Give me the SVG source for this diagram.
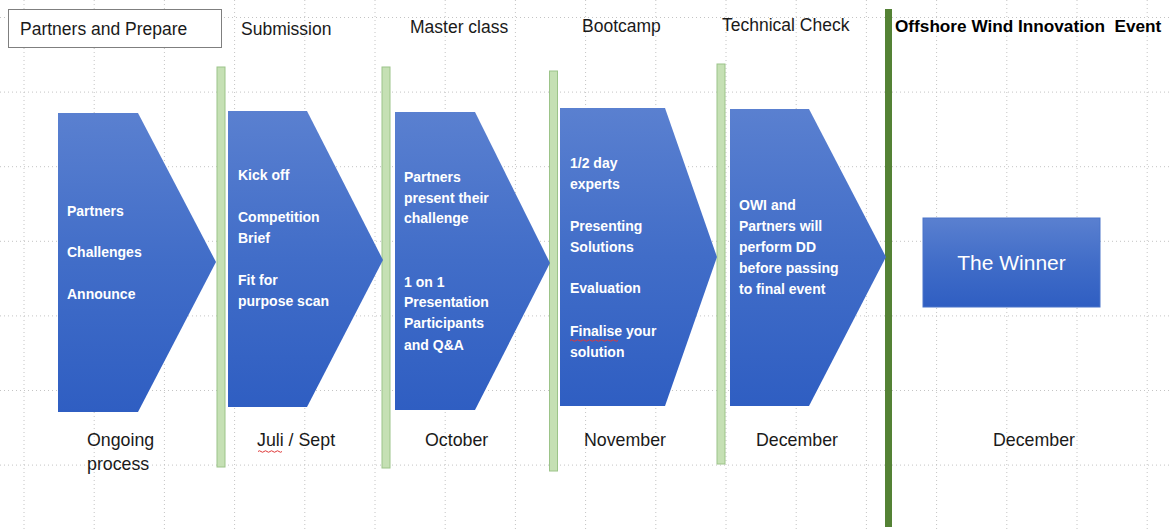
<svg xmlns="http://www.w3.org/2000/svg" width="1171" height="529" viewBox="0 0 1171 529">
  <defs>
    <linearGradient id="blueFill" x1="0" y1="0" x2="0" y2="1">
      <stop offset="0" stop-color="#5a80d0"/>
      <stop offset="0.5" stop-color="#416dc8"/>
      <stop offset="1" stop-color="#2f5ec2"/>
    </linearGradient>
    <style>
      .grid line { stroke: #c4c4c4; stroke-width: 1; stroke-dasharray: 1 3; }
      .chev { fill: url(#blueFill); }
      .bar { fill: #c5e0b4; stroke: #9cc489; stroke-width: 1; }
      .bar-main { fill: #548235; }
      .head { font-family: "Liberation Sans", Arial, sans-serif; font-size: 17.5px; fill: #1a1a1a; }
      .head-bold { font-family: "Liberation Sans", Arial, sans-serif; font-size: 17.2px; font-weight: bold; fill: #000; }
      .label { font-family: "Liberation Sans", Arial, sans-serif; font-size: 14px; font-weight: bold; fill: #ffffff; }
      .month { font-family: "Liberation Sans", Arial, sans-serif; font-size: 17.8px; fill: #1a1a1a; }
      .winner { font-family: "Liberation Sans", Arial, sans-serif; font-size: 21px; fill: #ffffff; }
      .squiggle { fill: none; stroke: #e03a3a; stroke-width: 1; }
    </style>
  </defs>

  <rect width="1171" height="529" fill="#ffffff"/>

  <!-- dotted background grid -->
  <g class="grid">
    <line x1="24" y1="0" x2="24" y2="529"/>
    <line x1="94.2" y1="0" x2="94.2" y2="529"/>
    <line x1="164.4" y1="0" x2="164.4" y2="529"/>
    <line x1="234.6" y1="0" x2="234.6" y2="529"/>
    <line x1="304.8" y1="0" x2="304.8" y2="529"/>
    <line x1="375" y1="0" x2="375" y2="529"/>
    <line x1="445.2" y1="0" x2="445.2" y2="529"/>
    <line x1="515.4" y1="0" x2="515.4" y2="529"/>
    <line x1="585.6" y1="0" x2="585.6" y2="529"/>
    <line x1="655.8" y1="0" x2="655.8" y2="529"/>
    <line x1="726" y1="0" x2="726" y2="529"/>
    <line x1="796.2" y1="0" x2="796.2" y2="529"/>
    <line x1="866.4" y1="0" x2="866.4" y2="529"/>
    <line x1="936.6" y1="0" x2="936.6" y2="529"/>
    <line x1="1006.8" y1="0" x2="1006.8" y2="529"/>
    <line x1="1077" y1="0" x2="1077" y2="529"/>
    <line x1="1147.2" y1="0" x2="1147.2" y2="529"/>
    <line x1="0" y1="17.5" x2="1171" y2="17.5"/>
    <line x1="0" y1="92.1" x2="1171" y2="92.1"/>
    <line x1="0" y1="166.7" x2="1171" y2="166.7"/>
    <line x1="0" y1="241.3" x2="1171" y2="241.3"/>
    <line x1="0" y1="315.9" x2="1171" y2="315.9"/>
    <line x1="0" y1="390.5" x2="1171" y2="390.5"/>
    <line x1="0" y1="465.1" x2="1171" y2="465.1"/>
  </g>

  <!-- phase separators -->
  <g id="separators">
    <rect class="bar" x="217" y="67" width="8" height="400"/>
    <rect class="bar" x="382" y="67" width="8" height="401"/>
    <rect class="bar" x="549.5" y="71" width="8" height="400"/>
    <rect class="bar" x="717" y="64" width="8" height="400"/>
    <rect class="bar-main" x="885" y="9" width="7" height="518"/>
  </g>

  <!-- phase 1 -->
  <g id="phase-partners">
    <rect x="8.5" y="9.5" width="213" height="38" fill="#ffffff" stroke="#7f7f7f" stroke-width="1"/>
    <text class="head" x="20" y="35">Partners and Prepare</text>
    <path class="chev" d="M58,113 H138 L216,262 L138,412 H58 Z"/>
    <text class="label" x="67" y="216">Partners</text>
    <text class="label" x="67" y="257">Challenges</text>
    <text class="label" x="67" y="299">Announce</text>
    <text class="month" x="87" y="446">Ongoing</text>
    <text class="month" x="87" y="470">process</text>
  </g>

  <!-- phase 2 -->
  <g id="phase-submission">
    <text class="head" x="241" y="35">Submission</text>
    <path class="chev" d="M228,111 H307 L383,260 L307,407 H228 Z"/>
    <text class="label" x="238" y="180">Kick off</text>
    <text class="label" x="238" y="222">Competition</text>
    <text class="label" x="238" y="243">Brief</text>
    <text class="label" x="238" y="285">Fit for</text>
    <text class="label" x="238" y="306">purpose scan</text>
    <text class="month" x="257" y="446">Juli / Sept</text>
    <path class="squiggle" d="M258,451.5 q1.5,-1.5 3,0 t3,0 t3,0 t3,0 t3,0 t3,0 t3,0 t3,0"/>
  </g>

  <!-- phase 3 -->
  <g id="phase-masterclass">
    <text class="head" x="410" y="33">Master class</text>
    <path class="chev" d="M395,112 H475 L550,263 L475,410 H395 Z"/>
    <text class="label" x="404" y="182">Partners</text>
    <text class="label" x="404" y="203">present their</text>
    <text class="label" x="404" y="223">challenge</text>
    <text class="label" x="404" y="287">1 on 1</text>
    <text class="label" x="404" y="307">Presentation</text>
    <text class="label" x="404" y="328">Participants</text>
    <text class="label" x="404" y="350">and Q&amp;A</text>
    <text class="month" x="425" y="446">October</text>
  </g>

  <!-- phase 4 -->
  <g id="phase-bootcamp">
    <text class="head" x="582" y="32">Bootcamp</text>
    <path class="chev" d="M560,108 H665 L717,257 L665,406 H560 Z"/>
    <text class="label" x="570" y="168">1/2 day</text>
    <text class="label" x="570" y="189">experts</text>
    <text class="label" x="570" y="231">Presenting</text>
    <text class="label" x="570" y="252">Solutions</text>
    <text class="label" x="570" y="293">Evaluation</text>
    <text class="label" x="570" y="336">Finalise your</text>
    <path class="squiggle" d="M570,340.5 q1.5,-1.5 3,0 t3,0 t3,0 t3,0 t3,0 t3,0 t3,0 t3,0 t3,0 t3,0 t3,0 t3,0 t3,0 t3,0 t3,0 t3,0"/>
    <text class="label" x="570" y="357">solution</text>
    <text class="month" x="584" y="446">November</text>
  </g>

  <!-- phase 5 -->
  <g id="phase-techcheck">
    <text class="head" x="722" y="31">Technical Check</text>
    <path class="chev" d="M730,109 H809 L886,257 L809,406 H730 Z"/>
    <text class="label" x="739" y="210">OWI and</text>
    <text class="label" x="739" y="231">Partners will</text>
    <text class="label" x="739" y="252">perform DD</text>
    <text class="label" x="739" y="273">before passing</text>
    <text class="label" x="739" y="294">to final event</text>
    <text class="month" x="756" y="446">December</text>
  </g>

  <!-- final event -->
  <g id="phase-event">
    <text class="head-bold" x="895" y="32" xml:space="preserve">Offshore Wind Innovation  Event</text>
    <rect x="923" y="218" width="177" height="89" fill="url(#blueFill)" stroke="#4a74c9" stroke-width="1"/>
    <text class="winner" x="1011.5" y="270" text-anchor="middle">The Winner</text>
    <text class="month" x="993" y="446">December</text>
  </g>
</svg>
